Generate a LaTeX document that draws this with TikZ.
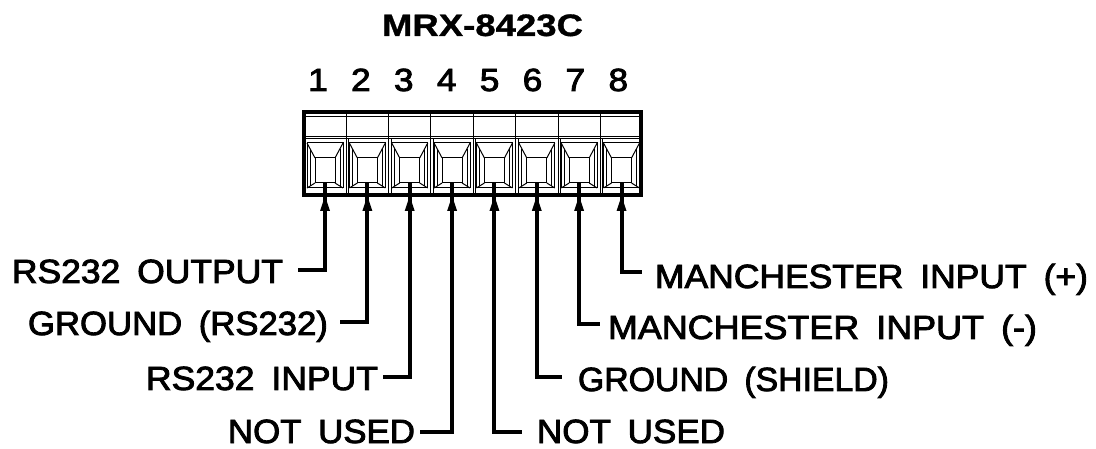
\documentclass[tikz,border=0pt]{standalone}
\usepackage{fontspec}
\setmainfont{Liberation Sans}
\newfontfamily\lblfont{Liberation Sans}[FakeBold=2.5]
\newfontfamily\ttlfont{Liberation Sans Bold}[FakeBold=1]
\usepackage{graphicx}
\tikzset{
  lbl/.style={inner sep=0pt, outer sep=0pt, font=\lblfont\fontsize{33.5}{34}\selectfont},
  ttl/.style={inner sep=0pt, outer sep=0pt, font=\ttlfont\fontsize{31}{31}\selectfont},
  num/.style={inner sep=0pt, outer sep=0pt, font=\lblfont\fontsize{32}{32}\selectfont},
  wire/.style={line width=4pt, line join=miter},
  fine/.style={line width=1pt},
  blockbox/.style={draw, line width=4pt, inner sep=0pt, outer sep=0pt, minimum width=337pt, minimum height=83pt},
}
\newcommand{\wtext}[2]{\resizebox{#1pt}{\height}{#2}}
\newcommand{\gap}{\hspace{0.2em} }
\begin{document}
\begin{tikzpicture}[x=1pt,y=-1pt]
\useasboundingbox (0,0) rectangle (1096,449);
% title and pin numbers
\node[ttl, anchor=base] (title) at (482.5,36) {\wtext{201}{MRX-8423C}};
\foreach \k in {1,...,8}{
  \node[num, anchor=base] (n\k) at ({318+42.9*(\k-1)},91) {\scalebox{1.1}[1]{\k}};
}
% terminal block
\node[blockbox] (block) at (472.5,153.5) {};
\draw[fine] (306,117) -- (639,117);
\draw[fine] (306,136.5) -- (639,136.5);
\draw[fine] (306,139) -- (639,139);
\foreach \k in {0,...,6}{
  \pgfmathsetmacro\xd{346.2+42.36*\k}
  \draw[fine] (\xd,114) -- (\xd,193);
  \draw[fine] (\xd+2.5,139) -- (\xd+2.5,193);
}
\foreach \k in {1,...,8}{
  \pgfmathsetmacro\cx{325+42.36*(\k-1)}
  \draw[fine] (\cx-18,143) rectangle (\cx+18,188);
  \draw[fine] (\cx-10,158) rectangle (\cx+10,183);
  \draw[fine] (\cx-18,143) -- (\cx-10,158) (\cx+18,143) -- (\cx+10,158)
              (\cx-10,183) -- (\cx-18,188) (\cx+10,183) -- (\cx+18,188);
  \draw[fine] (\cx-15,149) -- (\cx-15,186) (\cx+15,149) -- (\cx+15,186);
  \coordinate (t\k) at (\cx,183);
}
% labels
\node[lbl, anchor=base east] (L1) at (283,283) {\wtext{271}{RS232\gap OUTPUT}};
\node[lbl, anchor=base east] (L2) at (328,335) {\wtext{300}{GROUND\gap (RS232)}};
\node[lbl, anchor=base east] (L3) at (378,390) {\wtext{232}{RS232\gap INPUT}};
\node[lbl, anchor=base east] (L4) at (415,443) {\wtext{187}{NOT\gap USED}};
\node[lbl, anchor=base west] (R1) at (655,288) {\wtext{433}{MANCHESTER\gap INPUT\gap (+)}};
\node[lbl, anchor=base west] (R2) at (608,339) {\wtext{429}{MANCHESTER\gap INPUT\gap (-)}};
\node[lbl, anchor=base west] (R3) at (578,391) {\wtext{311}{GROUND\gap (SHIELD)}};
\node[lbl, anchor=base west] (R4) at (537,443) {\wtext{188}{NOT\gap USED}};
% leg ends
\coordinate (e1) at (298,270);
\coordinate (e2) at (340,322);
\coordinate (e3) at (383,377);
\coordinate (e4) at (420,432);
\coordinate (e5) at (522,432);
\coordinate (e6) at (562,377);
\coordinate (e7) at (600,324);
\coordinate (e8) at (642,272);
\foreach \k in {1,...,8}{
  \draw[wire] (t\k) |- (e\k);
  \fill (t\k) ++(0,13) -- ++(-5,15) -- ++(10,0) -- cycle;
}
\end{tikzpicture}
\end{document}
